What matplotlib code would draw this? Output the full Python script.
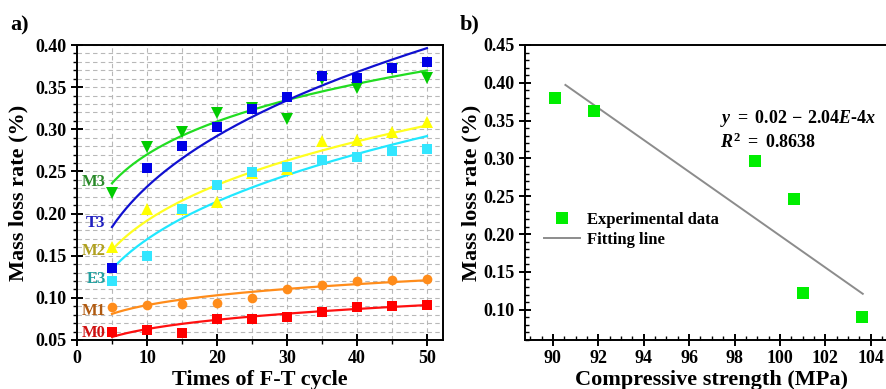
import numpy as np
import matplotlib
matplotlib.use("Agg")
import matplotlib.pyplot as plt
from matplotlib.ticker import MultipleLocator
from matplotlib.lines import Line2D

plt.rcParams['font.family'] = ['Liberation Serif', 'DejaVu Serif']
plt.rcParams['font.weight'] = 'bold'
plt.rcParams['mathtext.fontset'] = 'custom'
plt.rcParams['mathtext.rm'] = 'Liberation Serif:bold'
plt.rcParams['mathtext.it'] = 'Liberation Serif:bold:italic'
plt.rcParams['mathtext.bf'] = 'Liberation Serif:bold'

# ---------------- data: panel a ----------------
cycles = [5, 10, 15, 20, 25, 30, 35, 40, 45, 50]
M3 = [0.224, 0.279, 0.297, 0.319, 0.325, 0.312, 0.360, 0.349, 0.371, 0.361]
T3 = [0.135, 0.254, 0.280, 0.303, 0.324, 0.338, 0.363, 0.361, 0.373, 0.380]
M2 = [0.160, 0.205, 0.205, 0.214, 0.248, 0.253, 0.286, 0.287, 0.297, 0.309]
E3 = [0.120, 0.150, 0.205, 0.234, 0.249, 0.255, 0.263, 0.267, 0.274, 0.277]
M1 = [0.089, 0.0915, 0.093, 0.094, 0.100, 0.110, 0.115, 0.120, 0.121, 0.122]
M0 = [0.0595, 0.062, 0.058, 0.075, 0.075, 0.077, 0.083, 0.089, 0.090, 0.092]

# power-law fit coefficients y = a * x^b
fit_a = {'M3': 0.1724, 'T3': 0.1077, 'M2': 0.0987, 'E3': 0.0778, 'M1': 0.0612, 'M0': 0.0369}
fit_b = {'M3': 0.195, 'T3': 0.333, 'M2': 0.288, 'E3': 0.338, 'M1': 0.174, 'M0': 0.232}

series_names = ['M3', 'T3', 'M2', 'E3', 'M1', 'M0']
series_vals = {'M3': M3, 'T3': T3, 'M2': M2, 'E3': E3, 'M1': M1, 'M0': M0}
marker_of = {'M3': 'v', 'T3': 's', 'M2': '^', 'E3': 's', 'M1': 'o', 'M0': 's'}
marker_col = {'M3': '#00cc00', 'T3': '#0000e6', 'M2': '#ffff00', 'E3': '#33e6ff',
              'M1': '#ff8c1a', 'M0': '#ff0000'}
line_col = {'M3': '#22dd22', 'T3': '#1010d0', 'M2': '#ffff20', 'E3': '#20e8ff',
            'M1': '#ff8c1a', 'M0': '#ff1010'}
label_col = {'M3': '#2a8a2a', 'T3': '#2020c0', 'M2': '#b0a020', 'E3': '#20a0a0',
             'M1': '#b05a10', 'M0': '#d01010'}
label_y = {'M3': 0.2375, 'T3': 0.189, 'M2': 0.156, 'E3': 0.122, 'M1': 0.084, 'M0': 0.058}

# ---------------- data: panel b ----------------
strength = [90.1, 91.8, 98.9, 100.6, 101.0, 103.6]
mass_loss = [0.380, 0.363, 0.297, 0.247, 0.122, 0.091]
fit_x_range = [90.55, 103.65]
fit_slope = -0.02108
fit_intercept = 2.306

W, H = 886, 389
fig = plt.figure(figsize=(W / 100, H / 100), dpi=100)

# ---------------- panel a ----------------
axa = fig.add_axes([77 / W, 1 - 340 / H, (443 - 77) / W, 295 / H])
xs = np.linspace(5, 50, 200)
for name in series_names:
    ys = fit_a[name] * xs ** fit_b[name]
    axa.plot(xs, ys, color=line_col[name], lw=1.6, zorder=2)
for name in series_names:
    ms = 8.5 if marker_of[name] in ('v', '^') else 7.0
    axa.plot(cycles, series_vals[name], linestyle='none', marker=marker_of[name],
             color=marker_col[name], markersize=ms, markeredgewidth=0, zorder=3)
for name in series_names:
    axa.text(4.1, label_y[name], name, color=label_col[name], fontsize=12,
             fontweight='bold', ha='right', va='center')

axa.set_xlim(0, 52.3)
axa.set_ylim(0.05, 0.40)
axa.xaxis.set_major_locator(MultipleLocator(10))
axa.xaxis.set_minor_locator(MultipleLocator(5))
axa.yaxis.set_major_locator(MultipleLocator(0.05))
axa.yaxis.set_minor_locator(MultipleLocator(0.01))
axa.yaxis.set_major_formatter(plt.FormatStrFormatter('%.2f'))
axa.grid(True, which='both', linestyle=(0, (4, 3)), color='#b8b8b8', lw=0.8, zorder=0)
axa.set_axisbelow(True)
axa.tick_params(which='major', direction='inout', length=8, width=1.4, labelsize=13)
axa.tick_params(which='minor', direction='out', length=3, width=1.0)
for lab in axa.get_xticklabels() + axa.get_yticklabels():
    lab.set_fontweight('bold')
for sp in axa.spines.values():
    sp.set_linewidth(1.4)
axa.set_xlabel('Times of F-T cycle', fontsize=16, fontweight='bold', labelpad=2)
axa.set_ylabel('Mass loss rate (%)', fontsize=16, fontweight='bold', labelpad=5)
fig.text(10 / W, 1 - 25 / H, 'a)', fontsize=16, fontweight='bold', va='center', ha='left')

# ---------------- panel b ----------------
xmin_b, xmax_b = 88.77, 105.2
px_per_unit = 22.7
axb = fig.add_axes([525 / W, 1 - 340 / H, (xmax_b - xmin_b) * px_per_unit / W, 295 / H])
fx = np.array(fit_x_range)
axb.plot(fx, fit_intercept + fit_slope * fx, color='#8c8c8c', lw=1.4, zorder=2,
         label='Fitting line')
axb.plot(strength, mass_loss, linestyle='none', marker='s', color='#00ee00',
         markersize=8, markeredgewidth=0, zorder=3, label='Experimental data')
axb.set_xlim(xmin_b, xmax_b)
axb.set_ylim(0.06, 0.45)
axb.xaxis.set_major_locator(MultipleLocator(2))
axb.xaxis.set_minor_locator(MultipleLocator(0.5))
axb.yaxis.set_major_locator(MultipleLocator(0.05))
axb.yaxis.set_minor_locator(MultipleLocator(0.01))
axb.yaxis.set_major_formatter(plt.FormatStrFormatter('%.2f'))
axb.tick_params(which='major', direction='inout', length=8, width=1.4, labelsize=13)
axb.tick_params(which='minor', direction='in', length=3, width=1.0)
for lab in axb.get_xticklabels() + axb.get_yticklabels():
    lab.set_fontweight('bold')
for sp in axb.spines.values():
    sp.set_linewidth(1.4)
axb.set_xlabel('Compressive strength (MPa)', fontsize=16, fontweight='bold', labelpad=2)
axb.set_ylabel('Mass loss rate (%)', fontsize=16, fontweight='bold', labelpad=1)
fig.text(460 / W, 1 - 24 / H, 'b)', fontsize=16, fontweight='bold', va='center', ha='left')

axb.text(97.35, 0.353, r'$y\ =\ 0.02\,-\,2.04E$-$4x$', fontsize=13, va='center', ha='left')
axb.text(97.35, 0.321, r'$R^2\ =\ 0.8638$', fontsize=13, va='center', ha='left')

handles = [Line2D([], [], linestyle='none', marker='s', color='#00ee00', markersize=8,
                  markeredgewidth=0),
           Line2D([], [], color='#8c8c8c', lw=1.4)]
axb.legend(handles, ['Experimental data', 'Fitting line'], loc='upper left',
           bbox_to_anchor=(537 / W, 1 - 205 / H), bbox_transform=fig.transFigure,
           frameon=False, prop={'weight': 'bold', 'size': 12}, handlelength=2.2,
           handletextpad=0.4, labelspacing=0.25, borderaxespad=0)

fig.savefig('out.png', dpi=100)
